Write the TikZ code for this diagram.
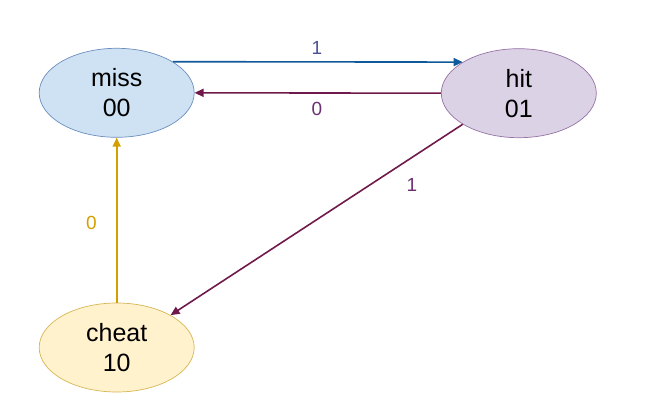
\documentclass[tikz,border=0pt]{standalone}
\usepackage{fontspec}
\setmainfont{Liberation Sans}
\usetikzlibrary{shapes.geometric,arrows.meta}
\definecolor{missfill}{HTML}{CFE2F3}
\definecolor{missdraw}{HTML}{6C8EBF}
\definecolor{hitfill}{HTML}{DCD2E6}
\definecolor{hitdraw}{HTML}{9673A6}
\definecolor{cheatfill}{HTML}{FFF2CC}
\definecolor{cheatdraw}{HTML}{D6B656}
\definecolor{bluearr}{HTML}{10599A}
\definecolor{redarr}{HTML}{6F1A4A}
\definecolor{goldarr}{HTML}{D49F00}
\definecolor{lblblue}{HTML}{4A5296}
\definecolor{lblred}{HTML}{6A3070}
\begin{document}
\begin{tikzpicture}[x=1pt,y=-1pt,
  state/.style={ellipse,minimum width=155pt,minimum height=89pt,inner sep=0pt,
    align=center,font=\fontsize{25}{30}\selectfont,line width=0.7pt},
  conn/.style={line width=1.6pt,-{Triangle[length=9pt,width=8pt]}},
  lbl/.style={font=\fontsize{19}{21}\selectfont,inner sep=0pt}]
\useasboundingbox (0,0) rectangle (647,419);
\node[state,fill=missfill,draw=missdraw] (miss) at (116.7,92.8) {miss\\00};
\node[state,fill=hitfill,draw=hitdraw] (hit) at (518.8,93.2) {hit\\01};
\node[state,fill=cheatfill,draw=cheatdraw] (cheat) at (116.7,347.5) {cheat\\10};
\draw[conn,bluearr] (miss.29) -- (hit.151);
\draw[conn,redarr] (hit.west) -- (miss.east);
\draw[conn,redarr] (hit.209) -- (cheat.31);
\draw[conn,goldarr] (cheat.north) -- (miss.south);
\node[lbl,text=lblblue] (l1) at (317,47.5) {1};
\node[lbl,text=lblred] (l2) at (317,109) {0};
\node[lbl,text=lblred] (l3) at (412,184.5) {1};
\node[lbl,text=goldarr] (l4) at (91.5,222.5) {0};
\end{tikzpicture}
\end{document}
